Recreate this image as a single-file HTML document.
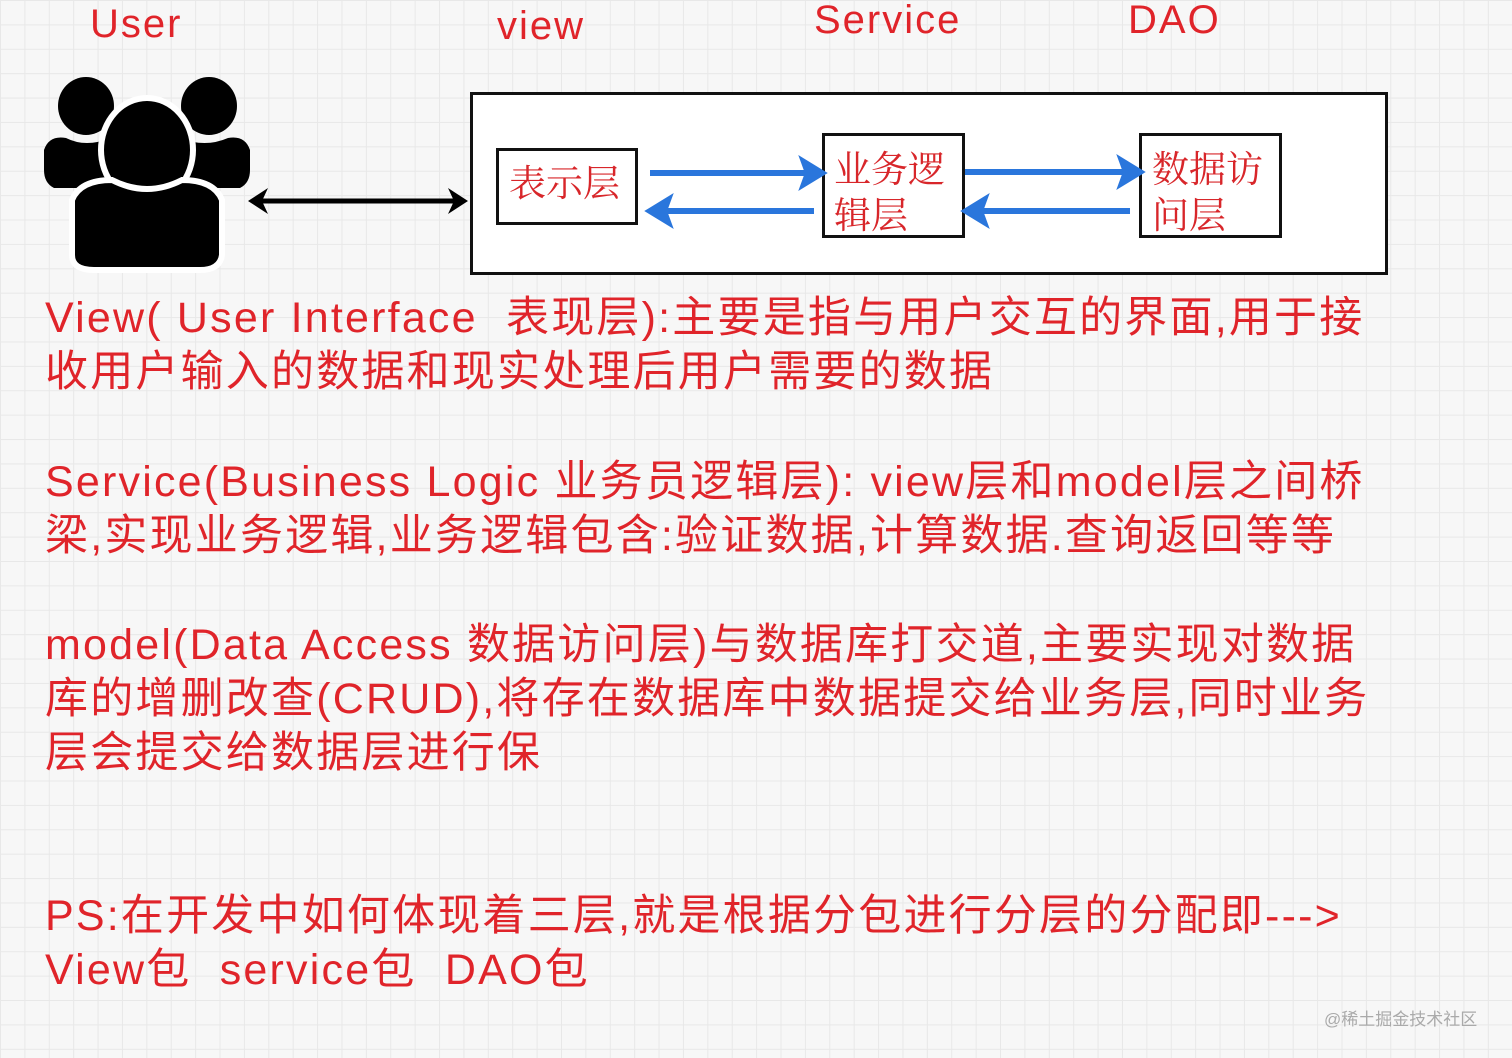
<!DOCTYPE html>
<html><head><meta charset="utf-8"><style>
body{margin:0;width:1512px;height:1058px;overflow:hidden;background-color:#f7f7f7;
background-image:linear-gradient(#e8e8e8 1px,transparent 1px),linear-gradient(90deg,#e8e8e8 1px,transparent 1px);background-size:24.4px 24.4px;position:relative;
font-family:"Liberation Sans","Noto Sans CJK SC",sans-serif;color:#e0242a}
.t{position:absolute;white-space:nowrap;line-height:1}
.l{position:absolute;left:45px;white-space:nowrap;font-size:43px;line-height:54px;letter-spacing:2.2px}
.box{position:absolute;border:3px solid #111;background:#fff;box-sizing:border-box}
.cn{position:absolute;font-family:"Noto Serif CJK SC","Liberation Serif",serif;font-size:37px;line-height:46px;color:#d8262a}
</style></head><body>
<div class="t" style="left:90px;top:4px;font-size:40px;letter-spacing:2px">User</div>
<div class="t" style="left:497px;top:6px;font-size:40px;letter-spacing:2px">view</div>
<div class="t" style="left:814px;top:0px;font-size:40px;letter-spacing:2px">Service</div>
<div class="t" style="left:1128px;top:0px;font-size:40px;letter-spacing:2px">DAO</div>

<svg style="position:absolute;left:0;top:0" width="1512" height="290">
<g fill="#000">
<ellipse cx="86" cy="106" rx="28" ry="29"/><ellipse cx="209" cy="106" rx="28" ry="29"/>
<path d="M44 150 Q49 135 66 138 Q86 148 110 138 L120 188 L54 188 Q44 183 44 170Z"/>
<path d="M250 150 Q245 135 228 138 Q205 148 180 138 L170 188 L240 188 Q250 183 250 170Z"/>
<ellipse cx="147" cy="150" rx="46" ry="52" stroke="#fff" stroke-width="6"/>
<path d="M72 200 Q80 180 112 180 Q147 198 182 180 Q214 180 222 200 L222 255 Q220 270 200 270 L94 270 Q72 270 72 255Z" stroke="#fff" stroke-width="6"/>
</g>
<line x1="255" y1="201" x2="462" y2="201" stroke="#000" stroke-width="5"/>
<path d="M248 201 L268 188 L262 201 L268 214Z" fill="#000"/>
<path d="M468 201 L448 188 L454 201 L448 214Z" fill="#000"/>
</svg>

<div class="box" style="left:470px;top:92px;width:918px;height:183px"></div>
<div class="box" style="left:496px;top:148px;width:142px;height:77px"></div>
<div class="cn" style="left:509px;top:157px">表示层</div>
<div class="box" style="left:822px;top:133px;width:143px;height:105px"></div>
<div class="cn" style="left:834px;top:143px">业务逻<br>辑层</div>
<div class="box" style="left:1139px;top:133px;width:143px;height:105px"></div>
<div class="cn" style="left:1152px;top:143px">数据访<br>问层</div>

<svg style="position:absolute;left:0;top:0" width="1512" height="290">
<g stroke="#2a76dc" stroke-width="6" fill="#2a76dc">
<line x1="650" y1="173" x2="810" y2="173"/><path d="M822 173 L804 162 L808 173 L804 184Z"/>
<line x1="662" y1="211" x2="814" y2="211"/><path d="M650 211 L668 200 L664 211 L668 222Z"/>
<line x1="965" y1="172" x2="1128" y2="172"/><path d="M1140 172 L1122 161 L1126 172 L1122 183Z"/>
<line x1="978" y1="211" x2="1130" y2="211"/><path d="M966 211 L984 200 L980 211 L984 222Z"/>
</g></svg>

<div class="l" style="top:291px">View( User Interface &nbsp;表现层):主要是指与用户交互的界面,用于接</div>
<div class="l" style="top:345px">收用户输入的数据和现实处理后用户需要的数据</div>
<div class="l" style="top:455px">Service(Business Logic 业务员逻辑层): view层和model层之间桥</div>
<div class="l" style="top:509px">梁,实现业务逻辑,业务逻辑包含:验证数据,计算数据.查询返回等等</div>
<div class="l" style="top:618px">model(Data Access 数据访问层)与数据库打交道,主要实现对数据</div>
<div class="l" style="top:672px">库的增删改查(CRUD),将存在数据库中数据提交给业务层,同时业务</div>
<div class="l" style="top:726px">层会提交给数据层进行保</div>
<div class="l" style="top:889px">PS:在开发中如何体现着三层,就是根据分包进行分层的分配即---&gt;</div>
<div class="l" style="top:943px">View包 &nbsp;service包 &nbsp;DAO包</div>
<div class="t" style="left:1324px;top:1011px;font-size:17px;color:#aaa">@稀土掘金技术社区</div>
</body></html>
